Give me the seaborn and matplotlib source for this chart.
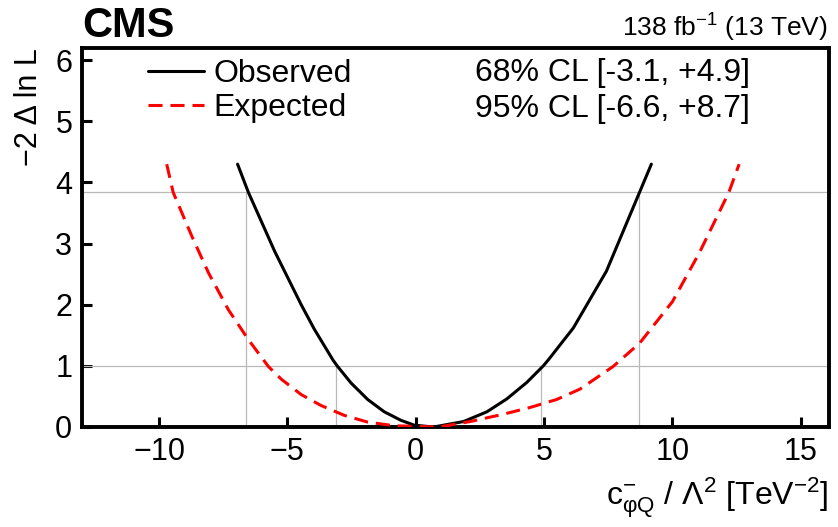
import numpy as np
import pandas as pd
import matplotlib
matplotlib.use("Agg")
import matplotlib.pyplot as plt
import seaborn as sns

# ---- data ----
obs_x = [-6.94, -6.52, -5.49, -4.46, -3.95, -3.23, -3.06, -2.52, -1.87, -1.23, -0.58, -0.06,
         0.70, 1.87, 2.78, 3.55, 4.33, 4.97, 5.17, 6.14, 7.43, 8.72, 9.18]
obs_y = [4.30, 3.84, 2.87, 2.00, 1.60, 1.10, 1.00, 0.72, 0.45, 0.25, 0.11, 0.03,
         0.00, 0.09, 0.25, 0.46, 0.73, 1.00, 1.10, 1.62, 2.55, 3.84, 4.30]

exp_x = [-9.70, -9.45, -8.72, -8.07, -7.30, -6.52, -5.74, -5.23, -4.46, -3.68, -2.78, -1.87,
         -0.83, 0.90, 2.13, 3.42, 4.46, 5.49, 6.40, 7.69, 8.72, 10.00, 11.05, 12.20, 12.60]
exp_y = [4.30, 3.84, 3.12, 2.52, 1.92, 1.43, 0.99, 0.78, 0.53, 0.35, 0.19, 0.08,
         0.02, 0.00, 0.09, 0.21, 0.32, 0.45, 0.62, 0.99, 1.37, 2.05, 2.85, 3.84, 4.30]

cl_levels = [1.0, 3.84]
obs_lo = [-3.1, -6.6]
obs_hi = [4.9, 8.7]
cl_labels = ["68% CL [-3.1, +4.9]", "95% CL [-6.6, +8.7]"]
series_labels = ["Observed", "Expected"]
x_ticks = [-10, -5, 0, 5, 10, 15]
y_ticks = [0, 1, 2, 3, 4, 5, 6]

# ---- style ----
sns.set_style("ticks")
plt.rcParams.update({
    "font.family": ["Liberation Sans", "DejaVu Sans"],
    "mathtext.fontset": "custom",
    "mathtext.rm": "Liberation Sans",
    "mathtext.it": "Liberation Sans:italic",
    "mathtext.bf": "Liberation Sans:bold",
    "axes.unicode_minus": True,
    "text.color": "black",
    "axes.labelcolor": "black",
    "xtick.color": "black",
    "ytick.color": "black",
    "axes.edgecolor": "black",
})

W, H = 838, 527
fig = plt.figure(figsize=(W / 100, H / 100), dpi=100)
ax = fig.add_axes([82 / W, 1 - 427 / H, (829 - 82) / W, (427 - 48) / H])

grid_c = "#b9b9b9"
for lvl in cl_levels:
    ax.axhline(lvl, color=grid_c, lw=0.9, zorder=1)
for lo, hi, lvl in zip(obs_lo, obs_hi, cl_levels):
    ax.vlines([lo, hi], 0, lvl, color=grid_c, lw=0.9, zorder=1)

obs_df = pd.DataFrame({"x": obs_x, "y": obs_y})
exp_df = pd.DataFrame({"x": exp_x, "y": exp_y})
sns.lineplot(data=obs_df, x="x", y="y", sort=False, estimator=None, color="black",
             lw=2.2, ax=ax, label=series_labels[0], zorder=3)
sns.lineplot(data=exp_df, x="x", y="y", sort=False, estimator=None, color="#ff0000",
             lw=2.2, linestyle=(0, (4.6, 2.6)), ax=ax, label=series_labels[1], zorder=3)

ax.set_xlim(-13, 16.1)
ax.set_ylim(0, 6.2)
ax.set_xticks(x_ticks)
ax.set_yticks(y_ticks)
ax.tick_params(direction="in", length=7, width=2.2, labelsize=22, pad=7,
               top=False, right=False, colors="black")
for sp in ax.spines.values():
    sp.set_visible(True)
    sp.set_linewidth(2.8)
    sp.set_color("black")

ax.set_xlabel(r"c$\mathregular{^{-}_{φQ}}$ / Λ$\mathregular{^{2}}$ [TeV$\mathregular{^{-2}}$]",
              loc="right", fontsize=23, labelpad=6, color="black")
ax.set_ylabel("−2 Δ ln L", loc="top", fontsize=22, labelpad=8, color="black")

handles, labels = ax.get_legend_handles_labels()
leg = ax.legend(handles, labels, loc="upper left", bbox_to_anchor=(148 / W, 1 - 59 / H),
                bbox_transform=fig.transFigure, frameon=False, fontsize=23,
                handlelength=1.75, handletextpad=0.3, labelspacing=0.12,
                borderpad=0, borderaxespad=0)
for t in leg.get_texts():
    t.set_color("black")

for i, txt in enumerate(cl_labels):
    fig.text(475 / W, 1 - (73 + 36 * i) / H, txt, ha="left", va="center", fontsize=23,
             color="black")

fig.text(82 / W, 1 - 37 / H, "CMS", ha="left", va="baseline", fontsize=30,
         fontweight="bold", color="black")
fig.text(828 / W, 1 - 37 / H, r"138 fb$\mathregular{^{-1}}$ (13 TeV)", ha="right",
         va="baseline", fontsize=19, color="black")

fig.savefig("out.png", dpi=100)
